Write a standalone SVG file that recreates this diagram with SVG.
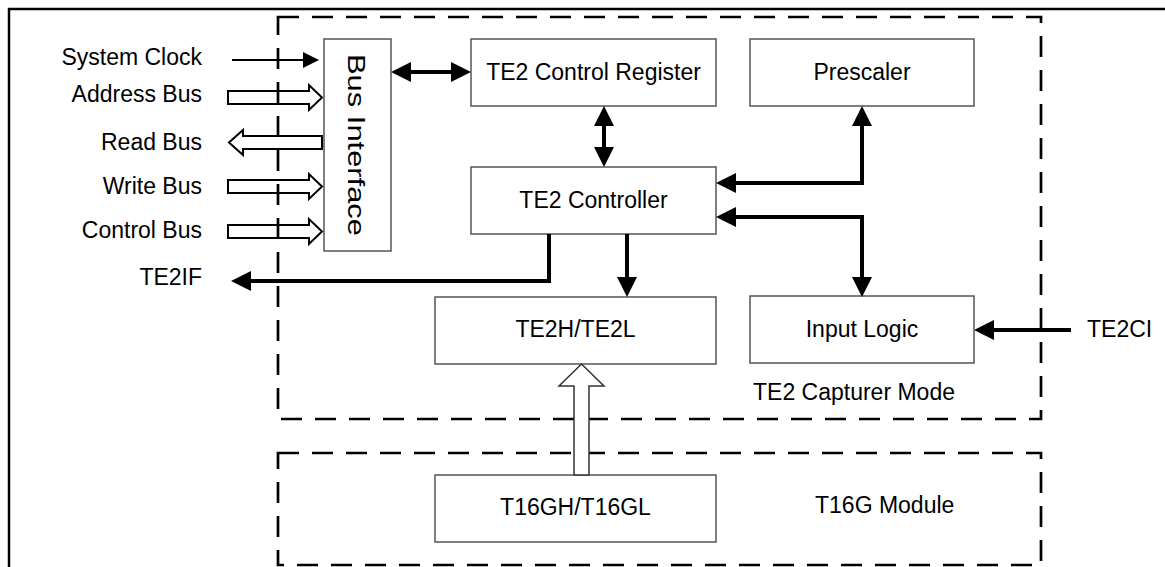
<svg xmlns="http://www.w3.org/2000/svg" width="1165" height="567" viewBox="0 0 1165 567">
  <style>
    text { font-family: "Liberation Sans", Arial, sans-serif; font-size: 23px; fill: #000; }
    .box { fill: #fff; stroke: #555; stroke-width: 1.5; }
    .dash { fill: none; stroke: #000; stroke-width: 2.7; stroke-dasharray: 21 13; }
    .wire { fill: none; stroke: #000; stroke-width: 4; }
    .thin { fill: none; stroke: #000; stroke-width: 2; }
    .bus { fill: none; stroke: #000; stroke-width: 2; stroke-linejoin: miter; }
    .mid { text-anchor: middle; }
    .end { text-anchor: end; }
  </style>
  <defs>
    <marker id="head" viewBox="0 0 20 20" refX="0" refY="10" markerWidth="20" markerHeight="20" markerUnits="userSpaceOnUse" orient="auto-start-reverse">
      <path d="M0,0 L20,10 L0,20 z" fill="#000"/>
    </marker>
    <marker id="headSmall" viewBox="0 0 16 16" refX="0" refY="8" markerWidth="16" markerHeight="16" markerUnits="userSpaceOnUse" orient="auto-start-reverse">
      <path d="M0,0 L16,8 L0,16 z" fill="#000"/>
    </marker>
  </defs>

  <!-- page frame -->
  <path d="M9,570 V9 H1170" fill="none" stroke="#000" stroke-width="2.5"/>

  <!-- module boundaries -->
  <g id="capturer-mode">
    <rect class="dash" x="278" y="17" width="763" height="402"/>
    <text x="753" y="400">TE2 Capturer Mode</text>
  </g>
  <g id="t16g-module">
    <rect class="dash" x="278" y="453" width="763" height="112"/>
    <text x="815" y="513">T16G Module</text>
  </g>

  <!-- external signal labels -->
  <g id="labels">
    <text class="end" x="202" y="65">System Clock</text>
    <text class="end" x="202" y="102">Address Bus</text>
    <text class="end" x="202" y="150">Read Bus</text>
    <text class="end" x="202" y="194">Write Bus</text>
    <text class="end" x="202" y="238">Control Bus</text>
    <text class="end" x="202" y="285">TE2IF</text>
    <text x="1087" y="337">TE2CI</text>
  </g>

  <!-- blocks -->
  <g id="bus-interface">
    <rect class="box" x="324" y="39" width="67" height="212"/>
    <text class="mid" transform="translate(348,145) rotate(90)" style="font-size:24px" textLength="182" lengthAdjust="spacingAndGlyphs">Bus Interface</text>
  </g>
  <g id="control-register">
    <rect class="box" x="471" y="39" width="245" height="67"/>
    <text class="mid" x="593.5" y="80">TE2 Control Register</text>
  </g>
  <g id="prescaler">
    <rect class="box" x="750" y="39" width="224" height="67"/>
    <text class="mid" x="862" y="80">Prescaler</text>
  </g>
  <g id="controller">
    <rect class="box" x="471" y="167" width="245" height="67"/>
    <text class="mid" x="593.5" y="208">TE2 Controller</text>
  </g>
  <g id="te2-counter">
    <rect class="box" x="435" y="297" width="281" height="67"/>
    <text class="mid" x="575.5" y="337">TE2H/TE2L</text>
  </g>
  <g id="input-logic">
    <rect class="box" x="750" y="296" width="224" height="67"/>
    <text class="mid" x="862" y="337">Input Logic</text>
  </g>
  <g id="t16g-counter">
    <rect class="box" x="435" y="475" width="281" height="67"/>
    <text class="mid" x="575.5" y="515">T16GH/T16GL</text>
  </g>

  <!-- connectors -->
  <g id="connectors">
    <!-- system interface -->
    <line class="thin" x1="232" y1="60" x2="303" y2="60" marker-end="url(#headSmall)"/>
    <polygon class="bus" points="228,91 309,91 309,85 322,97.5 309,110 309,104 228,104"/>
    <polygon class="bus" points="322,136 243,136 243,130 229,142.5 243,155 243,149 322,149"/>
    <polygon class="bus" points="228,180 309,180 309,174 322,186.5 309,199 309,193 228,193"/>
    <polygon class="bus" points="228,225 309,225 309,219 322,231.5 309,244 309,238 228,238"/>

    <!-- internal paths -->
    <line class="wire" x1="411" y1="72" x2="451" y2="72" marker-start="url(#head)" marker-end="url(#head)"/>
    <line class="wire" x1="604" y1="126" x2="604" y2="147" marker-start="url(#head)" marker-end="url(#head)"/>
    <line class="wire" x1="627" y1="234" x2="627" y2="277" marker-end="url(#head)"/>
    <path class="wire" d="M862,126 V183 H736" marker-start="url(#head)" marker-end="url(#head)"/>
    <path class="wire" d="M736,217 H862 V277" marker-start="url(#head)" marker-end="url(#head)"/>
    <path class="wire" d="M549,234 V281 H251" marker-end="url(#head)"/>
    <line class="wire" x1="1071" y1="330" x2="994" y2="330" marker-end="url(#head)"/>

    <!-- counter capture bus -->
    <polygon points="574,475 574,386 559,386 581.5,364 604,386 589,386 589,475" fill="#fff" stroke="#333" stroke-width="1.5"/>
  </g>
</svg>
